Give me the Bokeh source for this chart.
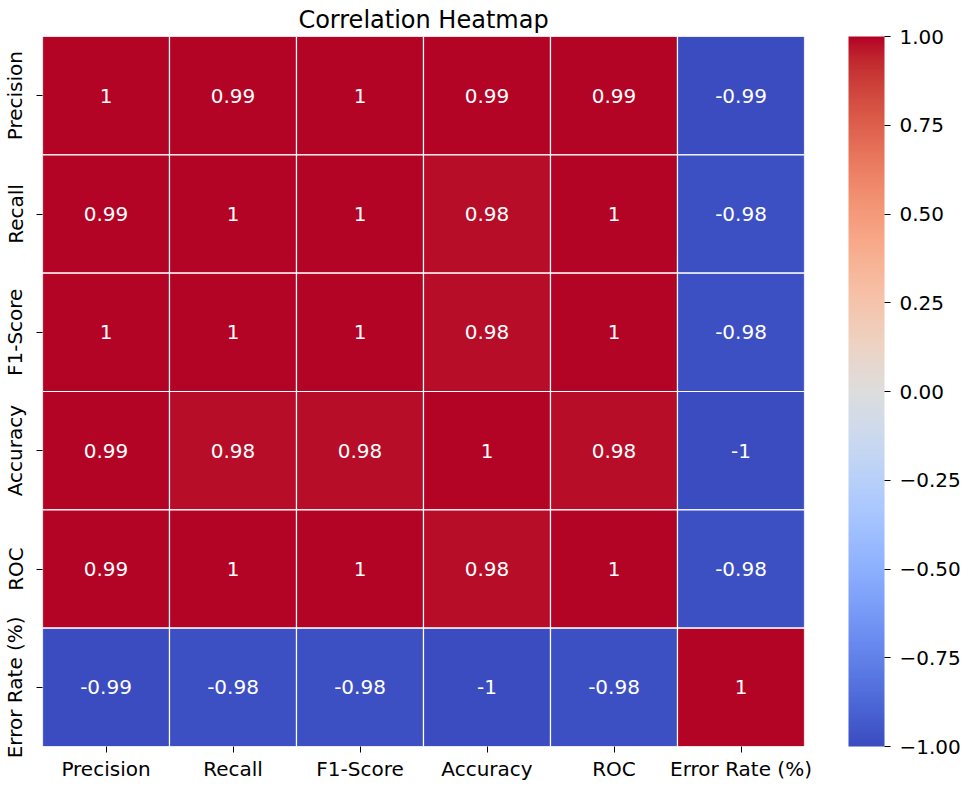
import numpy as np
from bokeh.plotting import figure
from bokeh.models import (ColumnDataSource, LinearColorMapper, ColorBar, FixedTicker,
                          FactorRange)
from bokeh.embed import file_html
from bokeh.resources import INLINE

metrics = ["Precision", "Recall", "F1-Score", "Accuracy", "ROC", "Error Rate (%)"]
corr = [
    [1.0, 0.993, 0.997, 0.993, 0.993, -0.993],
    [0.993, 1.0, 0.998, 0.983, 0.999, -0.984],
    [0.997, 0.998, 1.0, 0.984, 0.998, -0.984],
    [0.993, 0.983, 0.984, 1.0, 0.984, -0.997],
    [0.993, 0.999, 0.998, 0.984, 1.0, -0.984],
    [-0.993, -0.984, -0.984, -0.997, -0.984, 1.0],
]
cbar_ticks = [-1.0, -0.75, -0.5, -0.25, 0.0, 0.25, 0.5, 0.75, 1.0]

# coolwarm (Moreland) control points
cw_pos = np.linspace(0, 1, 33)
cw_rgb = np.array([
    (59, 76, 192), (68, 90, 204), (77, 104, 215), (87, 117, 225), (98, 130, 234),
    (108, 142, 241), (119, 154, 247), (130, 165, 251), (141, 176, 254), (152, 185, 255),
    (163, 194, 255), (174, 201, 253), (184, 208, 249), (194, 213, 244), (204, 217, 238),
    (213, 219, 230), (221, 221, 221), (229, 216, 209), (236, 211, 197), (241, 204, 184),
    (245, 196, 172), (247, 187, 159), (247, 177, 147), (247, 166, 134), (244, 154, 123),
    (241, 141, 111), (236, 127, 99), (229, 112, 88), (222, 96, 77), (213, 80, 66),
    (203, 62, 56), (192, 40, 47), (180, 4, 38)], dtype=float)
t = np.linspace(0, 1, 256)
palette = []
for tt in t:
    r = np.interp(tt, cw_pos, cw_rgb[:, 0])
    g = np.interp(tt, cw_pos, cw_rgb[:, 1])
    b = np.interp(tt, cw_pos, cw_rgb[:, 2])
    palette.append("#%02x%02x%02x" % (int(round(r)), int(round(g)), int(round(b))))

xs, ys, vals, labels = [], [], [], []
for i, row in enumerate(metrics):
    for j, col in enumerate(metrics):
        v = corr[i][j]
        xs.append(col)
        ys.append(row)
        vals.append(v)
        labels.append(format(v, ".2g"))
src = ColumnDataSource(dict(x=xs, y=ys, v=vals, label=labels))

mapper = LinearColorMapper(palette=palette, low=-1, high=1)

FONT = "DejaVu Sans"
p = figure(width=953, height=772, output_backend="svg", toolbar_location=None,
           x_range=FactorRange(*metrics), y_range=FactorRange(*metrics[::-1]),
           title="Correlation Heatmap", frame_width=762, frame_height=710,
           min_border_left=0, min_border_right=0, min_border_top=0, min_border_bottom=0)
p.title.align = "center"
p.title.text_font = FONT
p.title.text_font_size = "24px"
p.title.text_font_style = "normal"
p.title.text_color = "#000000"
p.title.standoff = 6

p.rect(x="x", y="y", width=1, height=1, source=src,
       fill_color={"field": "v", "transform": mapper}, line_color="white", line_width=1.2)
p.text(x="x", y="y", text="label", source=src, text_align="center",
       text_baseline="middle", text_color="white", text_font_size="20px",
       text_font={"value": FONT})

p.grid.visible = False
p.outline_line_color = None
for ax in (p.xaxis, p.yaxis):
    ax.axis_line_color = None
    ax.major_tick_line_color = "#000000"
    ax.major_tick_out = 6
    ax.major_tick_in = 0
    ax.minor_tick_line_color = None
    ax.major_label_text_font = FONT
    ax.major_label_text_font_size = "20px"
    ax.major_label_text_color = "#000000"
p.xaxis.major_label_standoff = 4
p.yaxis.major_label_standoff = 9
p.yaxis.major_label_orientation = "vertical"

cb = ColorBar(color_mapper=mapper, ticker=FixedTicker(ticks=cbar_ticks),
              width=36, height=710, padding=0, margin=0, location=(44, 0),
              major_tick_in=0, major_tick_out=6, major_tick_line_color="#000000",
              minor_tick_line_color=None, bar_line_color=None,
              major_label_text_font=FONT, major_label_text_font_size="20px",
              major_label_text_color="#000000", label_standoff=9,
              major_label_overrides={tk: ("%.2f" % tk).replace("-", "\u2212") for tk in cbar_ticks})
p.add_layout(cb, "right")

open("out.html", "w").write(file_html(p, INLINE))
